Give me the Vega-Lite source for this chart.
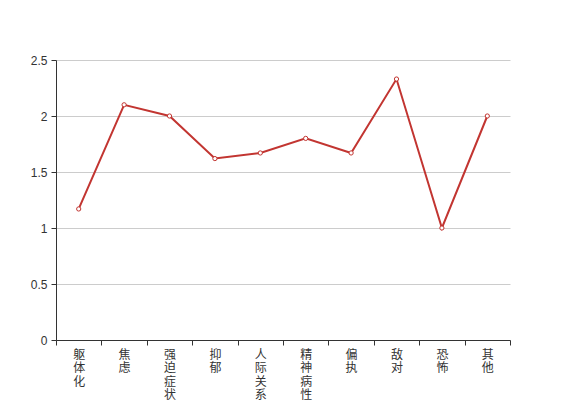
{
  "$schema": "https://vega.github.io/schema/vega-lite/v6.json",
  "width": 454,
  "height": 280,
  "autosize": {"type": "none"},
  "padding": {"left": 56, "top": 60, "right": 57, "bottom": 60},
  "background": "white",
  "config": {"view": {"stroke": null}},
  "data": {"values": [
    {"cat": "躯体化", "v": 1.17},
    {"cat": "焦虑", "v": 2.1},
    {"cat": "强迫症状", "v": 2.0},
    {"cat": "抑郁", "v": 1.62},
    {"cat": "人际关系敏感", "v": 1.67},
    {"cat": "精神病性", "v": 1.8},
    {"cat": "偏执", "v": 1.67},
    {"cat": "敌对", "v": 2.33},
    {"cat": "恐怖", "v": 1.0},
    {"cat": "其他", "v": 2.0}
  ]},
  "encoding": {
    "x": {"field": "cat", "type": "nominal", "sort": null,
      "scale": {"type": "band", "paddingInner": 0, "paddingOuter": 0},
      "axis": {"title": null, "labelAngle": 0, "tickBand": "extent", "labelExpr": "split(datum.label, '')",
        "labelFont": "Noto Sans CJK SC", "labelFontSize": 12, "labelColor": "#333", "labelLineHeight": 13.5,
        "labelBaseline": "top", "labelPadding": 4, "tickSize": 5, "tickColor": "#333", "domainColor": "#333",
        "labelOverlap": false, "grid": false}},
    "y": {"field": "v", "type": "quantitative",
      "scale": {"domain": [0, 2.5], "nice": false},
      "axis": {"title": null, "values": [0, 0.5, 1, 1.5, 2, 2.5], "format": "~g",
        "labelFont": "Liberation Sans", "labelFontSize": 12, "labelColor": "#333", "labelPadding": 4,
        "tickSize": 5, "tickColor": "#333", "domainColor": "#333", "gridColor": "#ccc", "grid": true}}
  },
  "layer": [
    {"mark": {"type": "line", "color": "#c23531", "strokeWidth": 2}},
    {"mark": {"type": "point", "shape": "circle", "filled": true, "fill": "white", "stroke": "#c23531", "strokeWidth": 1, "size": 18, "opacity": 1}}
  ]
}
